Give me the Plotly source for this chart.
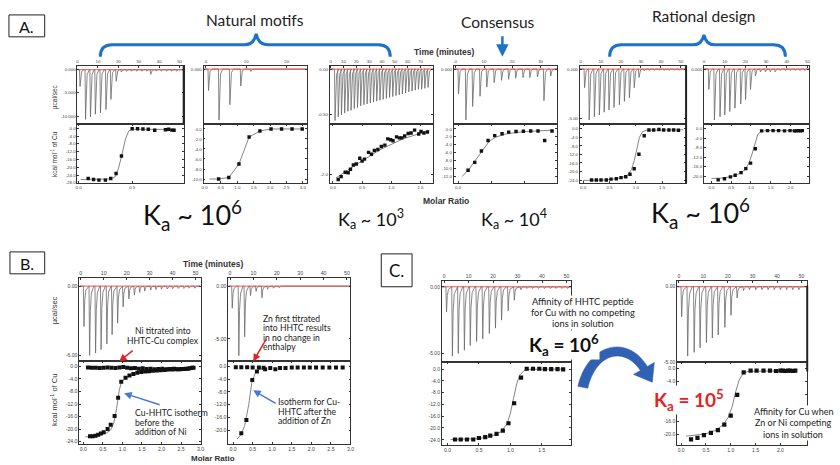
import plotly.graph_objects as go

W, H = 840, 465

# ================= DATA =================
# ---- Panel A1 (natural motif) ----
a1_t = [1.0, 3.7, 6.1, 8.5, 11.0, 13.7, 16.1, 18.7, 21.2, 23.7, 26.2, 28.7, 31.2, 33.7, 35.6, 38.2, 40.7, 43.2, 45.7, 48.2]
a1_d = [-3.6, -10.7, -10.2, -9.6, -9.3, -8.6, -6.4, -2.5, -0.5, -0.3, -0.3, -0.3, -0.3, -0.3, -1.0, -0.3, -0.3, -0.3, -0.3, -0.3]
a1_x = [0.09, 0.14, 0.19, 0.25, 0.30, 0.35, 0.40, 0.50, 0.55, 0.60, 0.65, 0.71, 0.81, 0.84, 0.87, 0.89]
a1_y = [-25.8, -26.3, -26.6, -26.6, -25.8, -23.2, -14.2, -0.2, -0.2, -0.3, -0.5, -1.0, -0.7, -0.5, -0.9, -1.0]
a1_fx = [0.02, 0.20, 0.30, 0.34, 0.37, 0.40, 0.44, 0.47, 0.50, 0.90]
a1_fy = [-26.3, -26.3, -26.0, -25.0, -21.0, -14.5, -5.0, -1.2, -0.5, -0.5]

# ---- Panel A2 (natural motif) ----
a2_t = [0.5, 3.1, 5.8, 8.5, 11.0]
a2_d = [-0.063, -0.150, -0.105, -0.050, -0.007]
a2_x = [0.43, 0.74, 1.05, 1.36, 1.69, 2.03, 2.35, 2.67, 2.98]
a2_y = [-10.0, -9.7, -7.0, -1.6, -0.4, 0.0, 0.0, 0.0, 0.0]
a2_fx = [0.15, 0.43, 0.74, 1.05, 1.36, 1.69, 2.03, 2.98]
a2_fy = [-10.0, -10.0, -9.7, -7.0, -1.6, -0.4, 0.0, 0.0]

# ---- Panel A3 (natural motif, weak) ----
a3_t = [3.0, 5.5, 8.0, 10.5, 13.0, 15.5, 18.0, 20.5, 23.0, 25.5, 28.0, 30.5, 33.0, 35.5, 38.0,
        40.5, 43.0, 45.5, 48.0, 50.5, 53.0, 55.5, 58.0, 60.5, 63.0, 65.5, 68.0, 70.5, 73.0, 75.5]
a3_d = [-0.56, -0.52, -0.50, -0.48, -0.46, -0.45, -0.43, -0.42, -0.40, -0.39, -0.38, -0.37, -0.36, -0.35, -0.34,
        -0.33, -0.32, -0.31, -0.30, -0.29, -0.28, -0.27, -0.26, -0.25, -0.24, -0.23, -0.22, -0.22, -0.21, -0.20]
a3_x = [0.09, 0.14, 0.21, 0.26, 0.30, 0.35, 0.40, 0.46, 0.50, 0.54, 0.61, 0.66, 0.71, 0.77, 0.83,
        0.89, 0.94, 0.99, 1.03, 1.09, 1.14, 1.18, 1.23, 1.29, 1.34, 1.40, 1.47, 1.51, 1.56, 1.62]
a3_y = [-2.11, -2.05, -1.96, -1.97, -1.90, -1.81, -1.79, -1.67, -1.73, -1.69, -1.55, -1.59, -1.51, -1.49, -1.43,
        -1.40, -1.27, -1.29, -1.31, -1.23, -1.25, -1.25, -1.21, -1.16, -1.15, -1.09, -1.17, -1.12, -1.15, -1.13]
a3_fx = [0.05, 0.40, 0.80, 1.20, 1.65]
a3_fy = [-2.08, -1.80, -1.50, -1.27, -1.10]

# ---- Panel A4 (consensus) ----
a4_t = [0.8, 3.4, 5.8, 8.4, 10.8, 13.4, 16.0, 18.5, 21.0, 23.6, 26.0, 28.7, 31.0, 33.4]
a4_d = [-0.073, -0.150, -0.110, -0.080, -0.053, -0.040, -0.033, -0.030, -0.027, -0.025, -0.025, -0.023, -0.093, -0.020]
a4_x = [0.15, 0.25, 0.35, 0.45, 0.55, 0.66, 0.76, 0.87, 0.98, 1.09, 1.20, 1.30, 1.41]
a4_y = [-10.5, -8.5, -5.6, -2.95, -1.7, -1.2, -0.8, -0.66, -0.57, -0.5, -0.5, -2.95, -0.5]
a4_fx = [0.06, 0.16, 0.26, 0.36, 0.46, 0.56, 0.71, 0.96, 1.21, 1.43]
a4_fy = [-12.1, -10.3, -8.0, -5.6, -3.3, -2.1, -1.3, -0.7, -0.5, -0.3]

# ---- Panel A5 (rational design) ----
a5_t = [1.6, 3.9, 6.5, 9.0, 11.4, 13.8, 16.3, 19.0, 21.5, 24.0, 26.4, 28.8, 31.3, 33.8, 36.3, 38.8, 41.3, 43.8, 46.3, 48.8]
a5_d = [-1.9, -5.17, -4.83, -4.66, -4.38, -4.14, -3.9, -3.62, -3.28, -2.93, -1.9, -0.86, -0.17, -0.12, -0.12, -0.12, -0.12, -0.12, -0.12, -0.12]
a5_x = [0.16, 0.25, 0.34, 0.44, 0.53, 0.63, 0.72, 0.81, 0.89, 0.97, 1.06, 1.16, 1.25, 1.34, 1.44, 1.53, 1.63, 1.72, 1.81]
a5_y = [-24.0, -24.0, -24.0, -24.0, -23.6, -23.4, -22.9, -22.5, -21.3, -18.7, -11.9, -3.2, -0.5, -0.5, -0.3, -0.5, -0.5, -0.5, -0.6]
a5_fx = [0.0, 0.40, 0.60, 0.75, 0.85, 0.92, 0.97, 1.02, 1.07, 1.12, 1.20, 1.90]
a5_fy = [-24.2, -24.0, -23.5, -22.8, -21.5, -19.0, -15.0, -9.0, -4.0, -1.5, -0.6, -0.4]

# ---- Panel A6 (rational design) ----
a6_t = [2.1, 4.8, 7.5, 9.8, 12.2, 14.7, 17.5, 19.8, 22.2, 24.6, 27.0, 29.4, 31.7, 34.1, 36.5, 38.9, 41.3, 43.7, 46.0, 48.4]
a6_d = [-2.07, -5.17, -4.83, -4.66, -4.31, -3.97, -3.55, -3.10, -2.07, -0.69, -0.28, -0.28, -0.28, -0.28, -0.14, -0.14, -0.14, -0.14, -0.14, -0.14]
a6_x = [0.17, 0.33, 0.48, 0.60, 0.75, 0.87, 0.99, 1.11, 1.27, 1.42, 1.56, 1.70, 1.85, 1.99, 2.10, 2.15, 2.20, 2.25, 2.30]
a6_y = [-21.6, -21.1, -20.3, -19.6, -18.5, -16.8, -14.5, -8.4, -0.8, -0.7, -0.7, -0.7, -0.8, -0.7, -0.8, -0.8, -0.7, -0.8, -0.7]
a6_fx = [0.0, 0.30, 0.50, 0.70, 0.85, 0.95, 1.03, 1.10, 1.17, 1.25, 1.40, 2.30]
a6_fy = [-21.0, -20.8, -20.2, -19.0, -17.3, -14.5, -10.5, -6.0, -2.5, -1.0, -0.7, -0.7]

# ---- Panel B1 (Ni into HHTC-Cu) ----
b1_t = [1.15, 3.6, 6.2, 8.6, 11.1, 13.4, 15.8, 18.2, 20.7, 23.1, 25.4, 27.6, 30.2, 32.5, 34.9, 37.4, 39.7, 42.2, 44.7, 46.9, 49.4]
b1_d = [-3.5, -6.0, -5.8, -5.5, -5.0, -4.2, -3.2, -1.8, -1.1, -0.78, -0.55, -0.43, -0.35, -0.30, -0.26, -0.24, -0.22, -0.20, -0.20, -0.18, -0.18]
b1_ni_x = [0.12, 0.22, 0.32, 0.42, 0.52, 0.62, 0.72, 0.82, 0.92, 1.02, 1.12, 1.22, 1.32, 1.42,
           1.52, 1.62, 1.72, 1.82, 1.92, 2.02, 2.12, 2.22, 2.32, 2.42, 2.52, 2.62, 2.72, 2.82]
b1_ni_y = [-0.3, -0.4, -0.4, -0.5, -0.4, -0.3, -0.4, -0.5, -0.3, -0.2, -0.4, -0.6, -0.5, -0.7,
           -0.6, -0.8, -0.7, -0.9, -0.8, -0.7, -0.9, -0.8, -0.7, -0.9, -0.8, -0.7, -0.6, -0.4]
b1_cu_x = [0.17, 0.24, 0.31, 0.38, 0.45, 0.52, 0.62, 0.70, 0.80, 0.89, 0.97, 1.08, 1.18, 1.28, 1.38,
           1.48, 1.58, 1.68, 1.78, 1.88, 1.98, 2.08, 2.18, 2.28, 2.38, 2.48, 2.58, 2.68, 2.78]
b1_cu_y = [-22.3, -22.3, -22.1, -21.8, -21.4, -21.0, -20.0, -18.6, -15.8, -10.0, -4.9, -3.6, -2.9, -2.4, -2.0,
           -1.8, -1.6, -1.5, -1.4, -1.3, -1.2, -1.1, -1.0, -1.0, -0.9, -0.9, -0.8, -0.7, -0.4]
b1_fx = [0.05, 0.40, 0.60, 0.70, 0.78, 0.85, 0.92, 0.98, 1.10, 1.40, 2.00, 2.80]
b1_fy = [-22.5, -22.0, -21.2, -20.3, -18.0, -13.5, -7.5, -4.8, -3.5, -2.0, -1.2, -0.7]

# ---- Panel B2 (Zn first) ----
b2_t = [0.7, 3.5, 6.0, 8.5, 10.9, 13.4, 15.8, 18.3, 20.7]
b2_d = [-2.1, -6.6, -4.8, -0.9, -0.5, -1.1, -0.3, -0.2, -0.15]
b2_zn_x = [0.07, 0.21, 0.36, 0.50, 0.66, 0.78, 0.82, 0.95, 1.08, 1.20, 1.34, 1.50, 1.65, 1.81, 1.96, 2.12, 2.29, 2.46, 2.63, 2.80]
b2_zn_y = [-0.2, -0.2, -0.2, -0.3, -0.3, -0.4, -0.85, -0.5, -0.85, -0.5, -0.5, -0.3, -0.3, -0.3, -0.3, -0.3, -0.3, -0.3, -0.3, -0.3]
b2_cu_x = [0.21, 0.34, 0.49, 0.61]
b2_cu_y = [-21.0, -16.8, -4.2, -1.6]
b2_fx = [0.10, 0.20, 0.30, 0.40, 0.48, 0.56, 0.65, 0.80]
b2_fy = [-22.8, -21.5, -18.5, -12.0, -5.0, -2.2, -1.0, -0.5]

# ---- Panel C1 (no competing ions) ----
c1_t = [0.7, 3.1, 5.5, 8.0, 10.4, 13.0, 15.5, 18.2, 20.7, 23.2, 25.9, 28.4, 31.1, 33.5, 35.8, 38.2, 40.7, 43.1, 45.4, 47.8, 50.0]
c1_d = [-1.9, -5.2, -5.0, -4.75, -4.4, -4.1, -3.9, -3.5, -3.1, -2.5, -1.8, -1.0, -0.22, -0.12, -0.12, -0.12, -0.12, -0.12, -0.12, -0.12, -0.12]
c1_x = [0.12, 0.21, 0.31, 0.41, 0.50, 0.60, 0.68, 0.78, 0.88, 0.97, 1.06, 1.17, 1.26, 1.36, 1.46, 1.55, 1.65, 1.75, 1.84]
c1_y = [-23.9, -23.9, -23.9, -23.9, -23.4, -23.1, -22.6, -22.0, -20.9, -18.4, -11.6, -2.9, 0.1, 0.1, 0.1, 0.0, 0.0, 0.0, -0.1]
c1_fx = [0.05, 0.50, 0.70, 0.85, 0.95, 1.00, 1.05, 1.10, 1.15, 1.22, 1.30, 1.85]
c1_fy = [-23.9, -23.6, -22.8, -21.3, -18.5, -15.0, -10.0, -5.0, -2.0, -0.5, -0.1, 0.0]

# ---- Panel C2 (with competing ions) ----
c2_t = [0.9, 3.35, 6.0, 8.4, 11.0, 13.4, 15.8, 18.5, 21.0, 23.5, 26.1, 28.5, 31.1, 33.6, 36.1, 38.6, 41.1, 43.6, 46.1, 48.6]
c2_d = [-2.0, -4.6, -4.35, -4.05, -3.7, -3.4, -3.2, -2.7, -1.9, -0.75, -0.26, -0.2, -0.2, -0.2, -0.2, -0.2, -0.2, -0.2, -0.2, -0.2]
c2_x = [0.20, 0.33, 0.46, 0.60, 0.74, 0.87, 1.00, 1.13, 1.26, 1.40, 1.52, 1.66, 1.79, 1.91, 2.00, 2.05, 2.10, 2.15, 2.20, 2.25, 2.30]
c2_y = [-21.5, -21.0, -20.2, -19.5, -18.7, -17.0, -14.3, -8.0, -1.2, -0.7, -0.7, -0.7, -0.7, -0.8, -0.7, -0.7, -0.8, -0.7, -0.7, -0.8, -0.7]
c2_fx = [0.10, 0.50, 0.70, 0.85, 0.95, 1.03, 1.10, 1.17, 1.25, 1.35, 2.30]
c2_fy = [-20.5, -19.8, -18.7, -17.0, -14.8, -11.5, -7.0, -3.5, -1.5, -0.9, -0.7]

# Ka labels
ka_labels_A = ["K<sub>a</sub> ~ 10<sup>6</sup>", "K<sub>a</sub> ~ 10<sup>3</sup>",
               "K<sub>a</sub> ~ 10<sup>4</sup>", "K<sub>a</sub> ~ 10<sup>6</sup>"]

# ================= FIGURE =================
fig = go.Figure()
layout = dict(width=W, height=H, margin=dict(l=0, r=0, t=0, b=0),
              paper_bgcolor="white", plot_bgcolor="white", showlegend=False)
annotations = []
shapes = []


def fx(x):
    return x / W


def fy(y):
    return 1 - y / H


def thermo_xy(times, depths, trange):
    span = trange[1] - trange[0]
    a = 0.005 * span
    xs, ys = [trange[0]], [0.0]
    for t, d in zip(times, depths):
        xs += [t, t + a, t + 2.2 * a, t + 4 * a, t + 8 * a]
        ys += [0.0, d, 0.35 * d, 0.1 * d, 0.0]
    xs.append(trange[1])
    ys.append(0.0)
    return xs, ys


axis_n = [0]


def add_axes(dom_x, dom_y, xr, yr, xside, xticks, xtext, yticks, ytext, tfs, showxlabels=True):
    axis_n[0] += 1
    k = axis_n[0]
    sx = "" if k == 1 else str(k)
    common = dict(showline=True, linecolor="#333", linewidth=0.8, mirror="ticks",
                  ticks="inside", ticklen=2, tickwidth=0.6, tickcolor="#333",
                  showgrid=False, zeroline=False,
                  tickfont=dict(size=tfs, color="#444", family="Liberation Sans"))
    layout["xaxis" + sx] = dict(common, domain=[fx(dom_x[0]), fx(dom_x[1])], range=xr,
                                anchor="y" + sx, side=xside, tickvals=xticks, ticktext=xtext,
                                showticklabels=showxlabels)
    layout["yaxis" + sx] = dict(common, domain=[fy(dom_y[1]), fy(dom_y[0])], range=yr,
                                anchor="x" + sx, tickvals=yticks, ticktext=ytext)
    return "x" + sx, "y" + sx


def fmt1(v):
    return "%.1f" % v


def add_panel(x0, x1, yt, ym, yb, t, d, trange, drange, dticks, dtext, tticks,
              series, fitx, fity, mrange, krange, mticks, kticks, tfs, msize,
              mtext=None, ktext=None):
    xa, ya = add_axes((x0, x1), (yt, ym), trange, drange, "top", tticks,
                      [str(v) for v in tticks], dticks, dtext, tfs)
    tx, ty = thermo_xy(t, d, trange)
    fig.add_trace(go.Scatter(x=tx, y=ty, mode="lines", xaxis=xa, yaxis=ya,
                             line=dict(color="#6a6a6a", width=0.8), hoverinfo="skip"))
    fig.add_trace(go.Scatter(x=[trange[0], trange[1]], y=[0, 0], mode="lines", xaxis=xa, yaxis=ya,
                             line=dict(color="#e8433a", width=0.9), hoverinfo="skip"))
    xb, yb_ = add_axes((x0, x1), (ym, yb), mrange, krange, "bottom", mticks,
                       mtext if mtext else [fmt1(v) for v in mticks], kticks,
                       ktext if ktext else [fmt1(v) for v in kticks], tfs)
    fig.add_trace(go.Scatter(x=fitx, y=fity, mode="lines", xaxis=xb, yaxis=yb_,
                             line=dict(color="#777", width=0.9), hoverinfo="skip"))
    for sx, sy in series:
        fig.add_trace(go.Scatter(x=sx, y=sy, mode="markers", xaxis=xb, yaxis=yb_,
                                 marker=dict(symbol="square", size=msize, color="#111"),
                                 hoverinfo="skip"))


kt28 = [0, -4, -8, -12, -16, -20, -24, -28]
kt24 = [0, -4, -8, -12, -16, -20, -24]
kt20 = [0, -4, -8, -12, -16, -20]

# Row A
add_panel(76, 183, 66, 125, 184, a1_t, a1_d, [0, 52], [-11.8, 0.86], [0, -5, -10],
          ["0.000", "-5.000", "-10.000"], [0, 10, 20, 30, 40, 50],
          [(a1_x, a1_y)], a1_fx, a1_fy, [-0.01, 0.98], [-28.2, 2.0], [0, 0.5], kt28, 4.4, 3.4)
add_panel(203, 307, 66, 125, 184, a2_t, a2_d, [-0.6, 25], [-0.163, 0.010], [0], ["0.000"], [0, 10, 20],
          [(a2_x, a2_y)], a2_fx, a2_fy, [-0.03, 3.12], [-10.84, 0.9],
          [0, 0.5, 1.0, 1.5, 2.0, 2.5, 3.0], [0, -2, -4, -6, -8, -10], 4.4, 3.4)
add_panel(330, 434, 66, 125, 184, a3_t, a3_d, [-0.8, 79.7], [-0.604, 0.037], [0, -0.5], ["0.00", "-0.50"],
          [0, 10, 20, 30, 40, 50, 60, 70],
          [(a3_x, a3_y)], a3_fx, a3_fy, [-0.057, 1.714], [-2.187, -0.973], [0, 0.5, 1.0, 1.5],
          [-2.0], 4.4, 3.4)
add_panel(455, 559, 66, 125, 184, a4_t, a4_d, [-0.7, 35.8], [-0.163, 0.010], [0], ["0.000"], [0, 10, 20, 30],
          [(a4_x, a4_y)], a4_fx, a4_fy, [-0.065, 1.485], [-13.8, 1.15], [0, 0.5, 1.0], [0, -2, -4, -6, -8, -10, -12],
          4.4, 3.4, mtext=["0.0", "", ""])
add_panel(582, 689, 66, 125, 184, a5_t, a5_d, [-0.5, 52.6], [-5.62, 0.34], [0, -5], ["0.000", "-5.00"],
          [0, 10, 20, 30, 40, 50],
          [(a5_x, a5_y)], a5_fx, a5_fy, [-0.0625, 1.956], [-25.5, 2.1], [0, 0.5, 1.0, 1.5], kt24, 4.4, 3.4)
add_panel(707, 813, 66, 125, 184, a6_t, a6_d, [0, 50.8], [-5.62, 0.34], [0], ["0.000"], [0, 10, 20, 30, 40, 50],
          [(a6_x, a6_y)], a6_fx, a6_fy, [-0.19, 2.475], [-23.0, 1.9], [0, 0.5, 1.0, 1.5, 2.0], kt20, 4.4, 3.4)

# Row B
mt3 = [0, 0.5, 1.0, 1.5, 2.0, 2.5, 3.0]
add_panel(78, 200, 279, 363, 446, b1_t, b1_d, [-0.57, 52.2], [-6.52, 0.72], [0, -6], ["0.00", "-6.00"],
          [0, 10, 20, 30, 40, 50],
          [(b1_ni_x, b1_ni_y), (b1_cu_x, b1_cu_y)], b1_fx, b1_fy, [-0.10, 3.0], [-24.8, 1.6], mt3, kt24, 5.2, 4.0)
add_panel(228, 351, 279, 363, 446, b2_t, b2_d, [-0.7, 51.5], [-7.14, 0.79], [0, -5], ["0.00", "-5.00"],
          [0, 10, 20, 30, 40, 50],
          [(b2_zn_x, b2_zn_y), (b2_cu_x, b2_cu_y)], b2_fx, b2_fy, [-0.12, 3.0], [-24.4, 1.6], mt3, kt20, 5.2, 4.0)

# Row C
add_panel(443, 573, 282, 364, 447, c1_t, c1_d, [-0.95, 51.8], [-5.67, 0.45], [0, -5], ["0.00", "-5.00"],
          [0, 10, 20, 30, 40, 50],
          [(c1_x, c1_y)], c1_fx, c1_fy, [-0.09, 1.963], [-25.8, 2.25], [0, 0.5, 1.0, 1.5], kt24, 5.0, 4.2)
add_panel(680, 811, 282, 364, 447, c2_t, c2_d, [-0.67, 52.3], [-5.02, 0.39], [0, -5], ["0.00", "-5.00"],
          [0, 10, 20, 30, 40, 50],
          [(c2_x, c2_y)], c2_fx, c2_fy, [-0.08, 2.54], [-23.2, 1.8], [0, 0.5, 1.0, 1.5, 2.0], kt20, 5.0, 4.2)


# ================= DECORATION =================
def text(x, y, s, size, color="#222", bold=False, xanchor="center", angle=0, family="Lato", bg=None):
    a = dict(x=fx(x), y=fy(y), xref="paper", yref="paper", text=("<b>%s</b>" % s) if bold else s,
             showarrow=False, xanchor=xanchor, yanchor="middle", textangle=angle,
             font=dict(size=size, color=color, family=family), borderpad=0)
    if bg:
        a["bgcolor"] = bg
    annotations.append(a)


def lines(x, y0, step, arr, size, color="#222", xanchor="center", bg=None):
    for i, s in enumerate(arr):
        text(x, y0 + i * step, s, size, color=color, xanchor=xanchor, bg=bg)


def arrow(hx, hy, tx, ty, color, width=1.5):
    annotations.append(dict(x=fx(hx), y=fy(hy), xref="paper", yref="paper", text="",
                            showarrow=True, ax=tx - hx, ay=ty - hy, arrowhead=2, arrowsize=1,
                            arrowwidth=width, arrowcolor=color))


def path_px(s):
    out, idx = [], 0
    for tok in s.split():
        if tok.isalpha():
            out.append(tok)
        else:
            v = float(tok)
            out.append("%.5f" % (fx(v) if idx % 2 == 0 else fy(v)))
            idx += 1
    return " ".join(out)


def box(x0, y0, x1, y1, label, size):
    shapes.append(dict(type="rect", xref="paper", yref="paper", x0=fx(x0), x1=fx(x1),
                       y0=fy(y1), y1=fy(y0), line=dict(color="#222", width=1)))
    text((x0 + x1) / 2, (y0 + y1) / 2 + 0.5, label, size, color="#111")


box(7, 15, 43, 37, "A.", 16)
box(8, 253, 43, 275, "B.", 16)
box(382, 255, 413, 288, "C.", 17)

brace_col = "#1f73c7"
shapes.append(dict(type="path", xref="paper", yref="paper", line=dict(color=brace_col, width=3),
                   path=path_px("M 99 57 Q 99 45 111 45 L 244 45 Q 254 45 256 34 Q 258 45 268 45 L 379 45 Q 391 45 391 57")))
shapes.append(dict(type="path", xref="paper", yref="paper", line=dict(color=brace_col, width=3),
                   path=path_px("M 612 57 Q 612 45 624 45 L 696 45 Q 705 45 707 35 Q 709 45 718 45 L 777 45 Q 789 45 789 57")))
arrow(504, 57, 504, 35, brace_col, 2.5)

text(255, 20, "Natural motifs", 15.5, color="#222")
text(500, 22, "Consensus", 15.5, color="#222")
text(707, 16, "Rational design", 15.5, color="#222")

text(445, 52, "Time (minutes)", 8.5, color="#333", bold=True, family="Liberation Sans")
text(447, 202, "Molar Ratio", 8.5, color="#333", bold=True, family="Liberation Sans")
text(213, 265, "Time (minutes)", 8.5, color="#333", bold=True, family="Liberation Sans")
text(213, 460, "Molar Ratio", 8.0, color="#333", bold=True, family="Liberation Sans")

text(53, 97, "µcal/sec", 6.5, color="#333", angle=-90, family="Liberation Sans")
text(53, 155, "kcal mol<sup>-1</sup> of Cu", 6.5, color="#333", angle=-90, family="Liberation Sans")
text(53, 312, "µcal/sec", 7.5, color="#333", angle=-90, family="Liberation Sans")
text(53, 402, "kcal mol<sup>-1</sup> of Cu", 7.5, color="#333", angle=-90, family="Liberation Sans")

text(192, 216, ka_labels_A[0], 27, color="#111")
text(372, 220, ka_labels_A[1], 18, color="#111")
text(516, 220, ka_labels_A[2], 18, color="#111")
text(704, 214, ka_labels_A[3], 27, color="#111")

# B annotations
red, blue = "#e02424", "#4a78d0"
lines(162, 332, 10, ["Ni titrated into", "HHTC-Cu complex"], 8.6)
arrow(118, 363, 133, 351, red)
lines(133, 415, 9.5, ["Cu-HHTC isotherm", "before the", "addition of Ni"], 8.6, xanchor="left")
arrow(123, 395, 160, 407, blue)
lines(262, 320, 9.5, ["Zn first titrated", "into HHTC results", "in no change in", "enthalpy"], 8.6, xanchor="left")
arrow(253, 363, 267, 339, red)
lines(277, 404, 9.5, ["Isotherm for Cu-", "HHTC after the", "addition of Zn"], 8.6, xanchor="left")
arrow(253, 392, 277, 406, blue)

# C annotations
lines(585, 303, 10.8, ["Affinity of HHTC peptide", "for Cu with no competing", "ions in solution"], 9.3, bg="white")
text(566, 346, "K<sub>a</sub> = 10<sup>6</sup>", 19, color="#111", bold=True, bg="white")
text(692, 402, "K<sub>a</sub> = 10<sup>5</sup>", 19, color="#e8231e", bold=True, bg="white")
lines(797, 413, 11.5, ["Affinity for Cu when", "Zn or Ni competing", "ions in solution"], 9.0, bg="white")

shapes.append(dict(type="path", xref="paper", yref="paper", fillcolor="#3061b3",
                   line=dict(color="#2a58a8", width=0.5),
                   path=path_px("M 580 388 C 590 345 630 335 650 368 L 657 364 L 655 384 "
                                "L 636 376 L 643 372 C 626 347 598 355 590 390 Z")))

# thick right edges seen on some instrument plots
for (xx, y0, y1) in [(183, 66, 125), (689, 66, 184), (811, 287, 373)]:
    shapes.append(dict(type="line", xref="paper", yref="paper", x0=fx(xx), x1=fx(xx),
                       y0=fy(y1), y1=fy(y0), line=dict(color="#222", width=2)))

layout["annotations"] = annotations
layout["shapes"] = shapes
fig.update_layout(layout)
fig.write_html("out.html", config={"displayModeBar": False},
               post_script="document.body.style.margin='0';document.body.style.overflow='hidden';")
